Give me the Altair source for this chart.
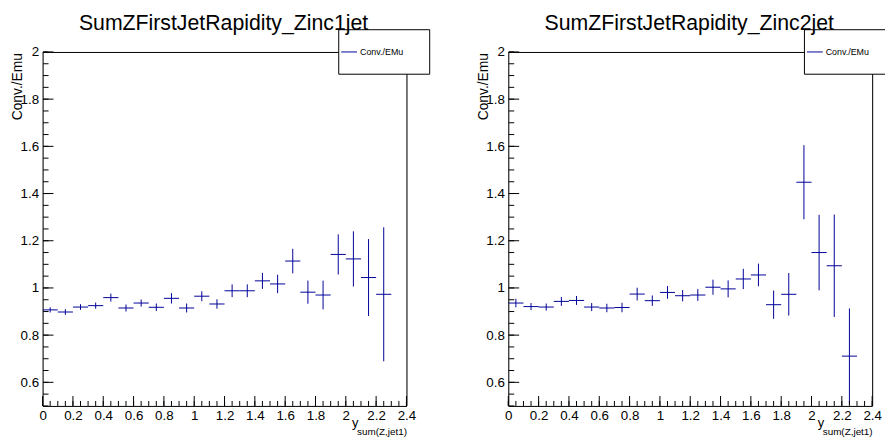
import altair as alt
import pandas as pd

FONT = "Liberation Sans"
BLUE = "#000099"
W, H = 368, 358

# ---- data -------------------------------------------------------------
x_centers = [0.05, 0.15, 0.25, 0.35, 0.45, 0.55, 0.65, 0.75, 0.85, 0.95, 1.05, 1.15,
             1.25, 1.35, 1.45, 1.55, 1.65, 1.75, 1.85, 1.95, 2.05, 2.15, 2.25]
half_width = 0.05

ratio_1jet = [0.907, 0.898, 0.919, 0.925, 0.959, 0.915, 0.936, 0.918, 0.956, 0.915, 0.965, 0.932,
              0.988, 0.988, 1.030, 1.017, 1.114, 0.982, 0.970, 1.142, 1.123, 1.044, 0.973]
err_1jet = [0.011, 0.012, 0.012, 0.013, 0.017, 0.015, 0.015, 0.016, 0.022, 0.019, 0.021, 0.020,
            0.027, 0.027, 0.034, 0.039, 0.052, 0.049, 0.061, 0.085, 0.117, 0.163, 0.284]

ratio_2jet = [0.936, 0.921, 0.919, 0.943, 0.947, 0.919, 0.915, 0.917, 0.974, 0.946, 0.981, 0.967,
              0.970, 1.003, 0.996, 1.038, 1.055, 0.929, 0.973, 1.448, 1.150, 1.094, 0.711]
err_2jet = [0.018, 0.015, 0.015, 0.019, 0.019, 0.017, 0.018, 0.020, 0.027, 0.022, 0.027, 0.024,
            0.025, 0.032, 0.036, 0.043, 0.048, 0.060, 0.090, 0.157, 0.160, 0.217, 0.202]

titles = ["SumZFirstJetRapidity_Zinc1jet", "SumZFirstJetRapidity_Zinc2jet"]
legend_label = "Conv./EMu"
y_title = "Conv./Emu"
x_title_main = "y"
x_title_sub = "sum(Z,jet1)"

x_major = [0, 0.2, 0.4, 0.6, 0.8, 1.0, 1.2, 1.4, 1.6, 1.8, 2.0, 2.2, 2.4]
y_major = [0.6, 0.8, 1.0, 1.2, 1.4, 1.6, 1.8, 2.0]
x_minor = [round(0.05 * i, 2) for i in range(49)]
y_minor = [round(0.5 + 0.05 * i, 2) for i in range(31)]

one = pd.DataFrame({"k": [0]})

XS = alt.Scale(domain=[0, 2.4], nice=False, zero=False)
YS = alt.Scale(domain=[0.5, 2.0], nice=False, zero=False)
XAXIS = alt.Axis(values=x_major, format="~g", ticks=False, tickSize=0, grid=False,
                 domain=True, domainColor="black", domainWidth=1, labelPadding=3,
                 labelFontSize=13.5, labelFont=FONT, labelColor="black", title=None,
                 labelFlush=False, labelOverlap=False)
YAXIS = alt.Axis(values=y_major, format="~g", ticks=False, tickSize=0, grid=False,
                 domain=True, domainColor="black", domainWidth=1, labelPadding=4,
                 labelFontSize=13.5, labelFont=FONT, labelColor="black", title=None,
                 labelFlush=False, labelOverlap=False)


def X(field):
    return alt.X(field, scale=XS, axis=XAXIS)


def Y(field):
    return alt.Y(field, scale=YS, axis=YAXIS)


def txt(text, x, y, size, align="left", baseline="alphabetic", angle=0):
    return alt.Chart(pd.DataFrame({"t": [text]})).mark_text(
        align=align, baseline=baseline, angle=angle, font=FONT, fontSize=size, color="black"
    ).encode(text="t:N", x=alt.value(x), y=alt.value(y))


def rule(x, x2, y, y2, color="black"):
    return alt.Chart(one).mark_rule(color=color, strokeWidth=1).encode(
        x=alt.value(x), x2=alt.value(x2), y=alt.value(y), y2=alt.value(y2))


def panel(vals, errs, title, first):
    df = pd.DataFrame({"x": x_centers, "v": vals, "e": errs})
    df["xlo"] = df["x"] - half_width
    df["xhi"] = df["x"] + half_width
    df["lo"] = df["v"] - df["e"]
    df["hi"] = df["v"] + df["e"]
    base = alt.Chart(df)

    vbar = base.mark_rule(color=BLUE, strokeWidth=1, clip=True).encode(
        x=X("x:Q"), y=Y("lo:Q"), y2="hi:Q")
    hbar = base.mark_rule(color=BLUE, strokeWidth=1, clip=True).encode(
        x=X("xlo:Q"), x2="xhi:Q", y=Y("v:Q"))

    def yt(vals_, length):
        return alt.Chart(pd.DataFrame({"t": vals_})).mark_rule(color="black").encode(
            y=Y("t:Q"), x=alt.value(0.5), x2=alt.value(length))

    def xt(vals_, length):
        return alt.Chart(pd.DataFrame({"t": vals_})).mark_rule(color="black").encode(
            x=X("t:Q"), y=alt.value(H), y2=alt.value(H - length))

    layers = [vbar, hbar]
    if first:
        anchor = alt.Chart(one).mark_rect(fill="white", strokeWidth=0).encode(
            x=alt.value(-34), x2=alt.value(-33), y=alt.value(-41), y2=alt.value(-40))
        layers.append(anchor)
    layers += [
        yt(y_minor, 6), yt(y_major, 11), xt(x_minor, 5), xt(x_major, 10),
        rule(0, W, 0.5, 0.5), rule(W + 0.5, W + 0.5, 0, H),
    ]
    if first:
        box = alt.Chart(one).mark_rect(fill="white", stroke="black", strokeWidth=1).encode(
            x=alt.value(299.5), x2=alt.value(391.5), y=alt.value(-22.5), y2=alt.value(22.5))
        layers.append(box)
    else:
        box = alt.Chart(one).mark_rect(fill="white", strokeWidth=0).encode(
            x=alt.value(299.5), x2=alt.value(381), y=alt.value(-22.5), y2=alt.value(22.5))
        layers += [box, rule(299.5, 381, -22.5, -22.5), rule(299.5, 381, 22.5, 22.5),
                   rule(299.5, 299.5, -22.5, 22.5)]
    layers += [
        rule(302, 318, 0, 0, color=BLUE),
        txt(legend_label, 321, 0.5, 9, baseline="middle"),
        txt(title, 183, -22, 21.5, align="center"),
        txt(y_title, -21, 1, 14, align="right", angle=270),
        txt(x_title_main, 313, 379, 13),
        txt(x_title_sub, 368.5, 387, 10, align="right"),
    ]
    return alt.layer(*layers).properties(width=W, height=H)


chart = alt.hconcat(
    panel(ratio_1jet, err_1jet, titles[0], True),
    panel(ratio_2jet, err_2jet, titles[1], False),
    spacing=103, bounds="flush",
).properties(padding=0).configure_view(stroke=None).configure(background="white")

chart.save("out.html", embed_options={"renderer": "svg", "actions": False})
